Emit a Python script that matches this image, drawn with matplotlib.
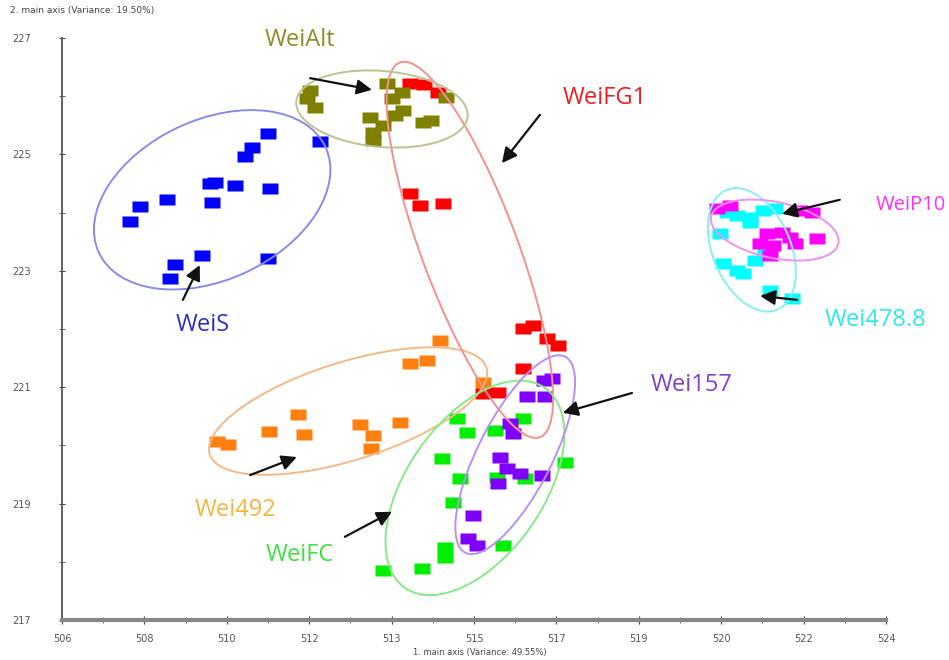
"""Scatter of 1st vs 2nd main axis with group ellipses (Wei* samples)."""

import numpy as np
import matplotlib
matplotlib.use("Agg")
import matplotlib.pyplot as plt
import matplotlib.transforms as mtransforms
from matplotlib.patches import Ellipse

# --- data: points per group (1st main axis, 2nd main axis) ---
weis_x = [510.50, 511.64, 510.15, 510.00, 509.34, 509.23, 509.78, 510.54,
          508.29, 507.70, 509.28, 507.49, 509.06, 510.50, 508.47, 508.36]
weis_y = [225.37, 225.23, 225.13, 224.97, 224.53, 224.51, 224.47, 224.42,
          224.23, 224.11, 224.18, 223.86, 223.27, 223.22, 223.12, 222.88]

weialt_x = [511.42, 511.35, 511.53, 513.10, 513.43, 513.21, 513.45, 512.73,
            513.27, 513.89, 514.06, 513.01, 512.79, 512.79, 514.39]
weialt_y = [226.11, 225.97, 225.81, 226.23, 226.07, 225.97, 225.76, 225.64,
            225.68, 225.56, 225.59, 225.51, 225.38, 225.25, 225.99]

weifg1_x = [513.60, 513.91, 514.21, 513.60, 513.82, 514.32, 516.07, 516.29,
            516.59, 516.83, 516.07, 515.20, 515.52]
weifg1_y = [226.23, 226.21, 226.07, 224.34, 224.13, 224.16, 222.02, 222.07,
            221.85, 221.73, 221.33, 220.90, 220.92]

wei492_x = [514.26, 513.60, 513.97, 515.20, 511.16, 510.52, 511.29, 512.51,
            512.79, 512.75, 513.38, 509.39, 509.63]
wei492_y = [221.81, 221.42, 221.47, 221.09, 220.54, 220.25, 220.20, 220.37,
            220.18, 219.96, 220.40, 220.08, 220.02]

weifc_x = [514.63, 514.85, 515.46, 516.07, 514.30, 516.99, 514.69, 515.50,
           516.11, 514.54, 515.63, 514.37, 514.37, 513.86, 513.01]
weifc_y = [220.47, 220.23, 220.26, 220.47, 219.78, 219.71, 219.44, 219.46,
           219.44, 219.03, 218.29, 218.25, 218.08, 217.89, 217.86]

wei157_x = [516.53, 516.70, 516.16, 516.55, 515.79, 515.85, 515.57, 515.72,
            516.00, 516.49, 515.52, 514.98, 514.87, 515.07]
wei157_y = [221.12, 221.16, 220.85, 220.85, 220.38, 220.21, 219.80, 219.61,
            219.53, 219.49, 219.35, 218.80, 218.41, 218.29]

wei478_x = [520.53, 520.74, 521.03, 521.31, 521.57, 521.03, 520.37, 521.36,
            521.14, 520.44, 520.74, 520.88, 521.47, 521.95]
wei478_y = [224.01, 223.96, 223.92, 224.04, 224.08, 223.84, 223.65, 223.32,
            223.19, 223.13, 223.01, 222.96, 222.67, 222.53]

weip10_x = [520.31, 520.59, 522.12, 522.38, 521.40, 521.73, 521.90, 521.25,
            521.53, 522.01, 521.47, 522.49]
weip10_y = [224.08, 224.13, 224.04, 224.01, 223.65, 223.67, 223.58, 223.48,
            223.44, 223.48, 223.27, 223.56]

x_ticks = np.linspace(506, 524, 11)
x_ticklabels = ["506", "508", "510", "512", "513", "515", "517", "519",
                "520", "522", "524"]
y_ticks = [217, 219, 221, 223, 225, 227]

# group: (x, y, marker colour, ellipse colour, text colour)
groups = [
    (wei492_x, wei492_y, "#ff8010", "#f5b888", "#f2b540"),
    (weifg1_x, weifg1_y, "#ff0000", "#f49090", "#e82020"),
    (weialt_x, weialt_y, "#808000", "#c0c090", "#8c8c28"),
    (weis_x, weis_y, "#0000ff", "#8a8ae8", "#3030c0"),
    (weifc_x, weifc_y, "#00ee00", "#88e888", "#40e040"),
    (wei157_x, wei157_y, "#8000ff", "#b890f0", "#8040c8"),
    (wei478_x, wei478_y, "#00ffff", "#88eef0", "#30e8e8"),
    (weip10_x, weip10_y, "#ff00ff", "#f090f0", "#ff30ff"),
]

# ellipse: centre (data), width / height (inches), angle (deg)
ellipses = [
    (512.25, 220.59, 2.90, 0.98, 17.4),
    (514.91, 223.36, 4.00, 0.96, -69.5),
    (512.99, 225.78, 1.72, 0.76, -5),
    (509.28, 224.22, 2.50, 1.60, 25),
    (515.02, 219.27, 2.44, 1.36, 55),
    (515.90, 219.84, 2.20, 0.74, 63),
    (521.07, 223.36, 1.30, 0.78, -67),
    (521.57, 223.70, 1.30, 0.56, -12),
]

# label text, label position, arrow tail, arrow head, alignment, size
labels = [
    ("Wei492", (509.78, 218.89), (510.11, 219.49), (511.13, 219.80), "center", 17),
    ("WeiFG1", (517.86, 225.97), (516.44, 225.68), (515.61, 224.85), "center", 17),
    ("WeiAlt", (511.20, 226.97), (511.42, 226.31), (512.77, 226.11), "center", 17),
    ("WeiS", (509.08, 222.07), (508.64, 222.50), (509.01, 223.10), "center", 17),
    ("WeiFC", (511.20, 218.12), (512.18, 218.43), (513.21, 218.86), "center", 17),
    ("Wei157", (519.76, 221.04), (518.45, 220.90), (516.94, 220.56), "center", 17),
    ("Wei478.8", (522.67, 222.15), (522.06, 222.50), (521.25, 222.57), "left", 17),
    ("WeiP10", (523.78, 224.13), (522.99, 224.22), (521.73, 223.98), "left", 14.5),
]

rect = [(-1, -0.72), (1, -0.72), (1, 0.72), (-1, 0.72), (-1, -0.72)]

fig = plt.figure(figsize=(9.49, 6.6), dpi=100)
ax = fig.add_axes([62 / 949, 40 / 660, 824 / 949, 582 / 660])

for (x, y, mc, ec, tc), (cx, cy, w, h, ang), (txt, tpos, tail, head, ha, fs) in zip(
        groups, ellipses, labels):
    ax.plot(x, y, linestyle="none", marker=rect, ms=11, color=mc,
            mec="none", zorder=3)
    trans = fig.dpi_scale_trans + mtransforms.ScaledTranslation(
        cx, cy, ax.transData)
    ax.add_patch(Ellipse((0, 0), w, h, angle=ang, transform=trans,
                         fill=False, edgecolor=ec, linewidth=1.4, zorder=4))
    ax.text(tpos[0], tpos[1], txt, color=tc, fontsize=fs, family="Open Sans",
            ha=ha, va="center", clip_on=False, zorder=6)
    ax.annotate("", xy=head, xytext=tail, zorder=5,
                arrowprops=dict(arrowstyle="-|>,head_length=0.9,head_width=0.45",
                                color="#111111", lw=1.6, shrinkA=0, shrinkB=0))

ax.set_xlim(506, 524)
ax.set_ylim(217, 227)
ax.set_xticks(x_ticks)
ax.set_xticklabels(x_ticklabels)
ax.set_xticks((x_ticks[:-1] + x_ticks[1:]) / 2, minor=True)
ax.set_yticks(y_ticks)
ax.set_yticks([218, 220, 222, 224, 226], minor=True)

for side in ("top", "right"):
    ax.spines[side].set_visible(False)
ax.spines["bottom"].set_color("#888888")
ax.spines["bottom"].set_linewidth(3)
ax.spines["left"].set_color("#555555")
ax.spines["left"].set_linewidth(1.3)

ax.tick_params(which="both", direction="inout", colors="#444444",
               labelsize=7, labelcolor="#555555")
ax.tick_params(axis="x", which="major", length=6, pad=7)
ax.tick_params(axis="x", which="minor", length=4)
ax.tick_params(axis="y", which="major", length=5, pad=20)
ax.tick_params(axis="y", which="minor", length=4)

fig.text(10 / 949, 1 - 10 / 660, "2. main axis (Variance: 19.50%)",
         fontsize=6.5, color="#444444", va="center", ha="left")
fig.text(480 / 949, 1 - 653 / 660, "1. main axis (Variance: 49.55%)",
         fontsize=6, color="#444444", va="center", ha="center")

plt.savefig("out.png", dpi=100)
plt.close()
